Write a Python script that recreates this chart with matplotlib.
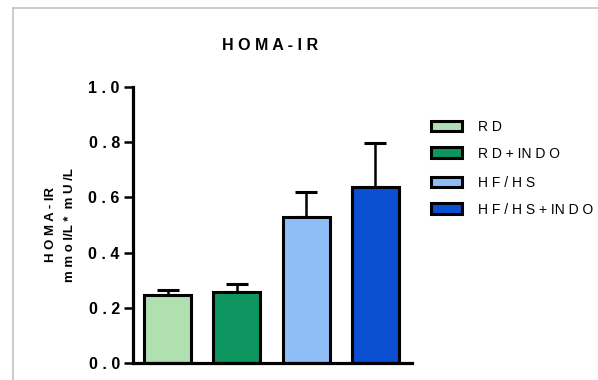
import numpy as np
import matplotlib
matplotlib.use('Agg')
import matplotlib.pyplot as plt
from matplotlib.patches import Patch
from matplotlib.lines import Line2D

plt.rcParams['font.family'] = ['Liberation Sans', 'DejaVu Sans']

# data
groups = ['RD', 'RD+INDO', 'HF/HS', 'HF/HS+INDO']
legend_labels = ['R D', 'R D + IN D O', 'H F / H S', 'H F / H S + IN D O']
means = [0.247, 0.257, 0.528, 0.639]
sem = [0.017, 0.029, 0.090, 0.159]
colors = ['#b0dfb0', '#0e9660', '#8fbdf5', '#0b4fd3']
yticks = [0.0, 0.2, 0.4, 0.6, 0.8, 1.0]
ytick_labels = ['0 . 0', '0 . 2', '0 . 4', '0 . 6', '0 . 8', '1 . 0']

fig = plt.figure(figsize=(5.98, 3.80), dpi=100)
ax = fig.add_axes([133/598, 17/380, 279/598, 276/380])

x = np.arange(len(groups))
bars = ax.bar(x, means, width=0.68, color=colors, edgecolor='black',
              linewidth=2.2, zorder=2)
ax.errorbar(x, means, yerr=[np.zeros(len(sem)), sem], fmt='none',
            ecolor='black', elinewidth=1.8, capsize=8, capthick=2.2, zorder=1)

ax.set_xlim(-0.5, 3.53)
ax.set_ylim(0, 1.0)
ax.set_xticks([])
ax.set_yticks(yticks)
ax.set_yticklabels(ytick_labels, fontsize=11.5, fontweight='bold')
ax.tick_params(axis='y', length=6.5, width=1.8, pad=3)
for s in ['top', 'right']:
    ax.spines[s].set_visible(False)
ax.spines['left'].set_linewidth(2.3)
ax.spines['bottom'].set_linewidth(2.3)

ax.set_ylabel('H O M A - IR\nm m o l/L *  m U /L', fontsize=9.5,
              fontweight='bold', labelpad=9, linespacing=1.8)
fig.text(270/598, 1 - 45/380, 'H O M A - I R', ha='center', va='center',
         fontsize=11.5, fontweight='bold')

# legend in two groups
h1 = [Patch(facecolor=colors[i], edgecolor='black', linewidth=2.2) for i in range(2)]
h2 = [Patch(facecolor=colors[i], edgecolor='black', linewidth=2.2) for i in range(2, 4)]
kw = dict(frameon=False, fontsize=10, handlelength=2.2, handleheight=0.8,
          handletextpad=1.2, labelspacing=0.9, loc='upper left', borderaxespad=0,
          borderpad=0)
leg1 = ax.legend(h1, legend_labels[:2], bbox_to_anchor=(431/598, 1 - 120/380),
                 bbox_transform=fig.transFigure, **kw)
ax.add_artist(leg1)
ax.legend(h2, legend_labels[2:], bbox_to_anchor=(431/598, 1 - 176/380),
          bbox_transform=fig.transFigure, **kw)

# outer gray frame (top and left only visible)
fx, fy = 12.5/598, 1 - 7.5/380
fig.add_artist(Line2D([fx, 1.5], [fy, fy], transform=fig.transFigure,
                      color='#c4c4c4', linewidth=1.2))
fig.add_artist(Line2D([fx, fx], [-0.5, fy], transform=fig.transFigure,
                      color='#c4c4c4', linewidth=1.2))

fig.savefig('out.png', dpi=100)
